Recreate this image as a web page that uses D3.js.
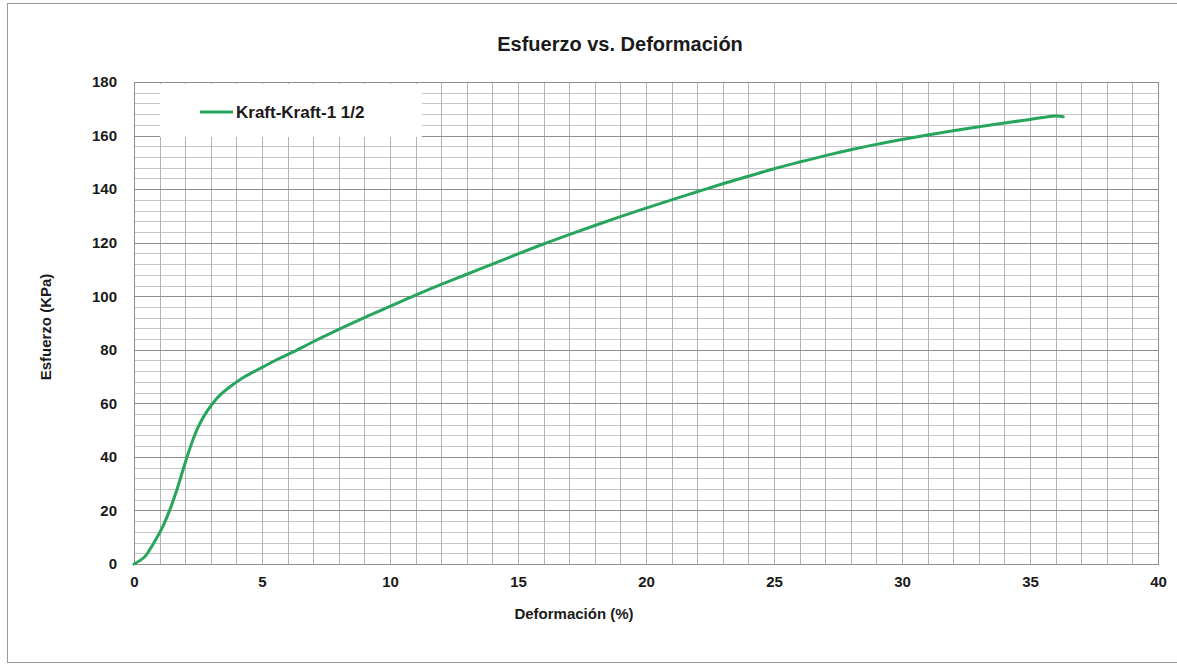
<!DOCTYPE html>
<html><head><meta charset="utf-8">
<script src="https://cdn.jsdelivr.net/npm/d3@7"></script>
<style>body{margin:0;background:#fff}svg{display:block}text{font-family:"Liberation Sans",Arial,sans-serif;font-weight:bold;fill:#1a1a1a}</style>
</head><body>
<svg id="c" width="1177" height="669"></svg>
<script>
const title = "Esfuerzo vs. Deformación";
const xTitle = "Deformación (%)";
const yTitle = "Esfuerzo (KPa)";
const seriesName = "Kraft-Kraft-1 1/2";
const xTicks = [0,5,10,15,20,25,30,35,40];
const yTicks = [0,20,40,60,80,100,120,140,160,180];
const deformacion = [0,0.4,0.75,1.1,1.41,1.7,2,2.25,2.5,2.75,3,3.3,3.75,4.3,4.9,5.5,6.2,7,8,9,10,11,12,13,14,15,16,17,18,19,20,21,22,23,24,25,26,27,28,29,30,31,32,33,34,35,36,36.3];
const esfuerzo =    [0,2.5,7.5,13.5,20.5,28.5,37.8,45,51,55.5,59,62.5,66.2,69.8,72.9,75.9,79.1,83,87.6,92,96.2,100.4,104.4,108.2,112,115.8,119.5,123,126.4,129.7,132.9,136,139,142,144.8,147.6,150.1,152.5,154.7,156.7,158.5,160.2,161.8,163.3,164.7,166,167.3,167];

const svg = d3.select("#c");
const L=134,R=1158,T=82,B=564;
const x = d3.scaleLinear().domain([0,40]).range([L,R]);
const y = d3.scaleLinear().domain([0,180]).range([B,T]);

svg.append("rect").attr("x",7.5).attr("y",3.5).attr("width",1180).attr("height",659).attr("fill","#fff").attr("stroke","#9a9a9a");

const g = svg.append("g");
g.selectAll(".hm").data(d3.range(0,181,4)).join("line")
 .attr("x1",L).attr("x2",R).attr("y1",d=>Math.round(y(d))+0.5).attr("y2",d=>Math.round(y(d))+0.5)
 .attr("stroke","#c6c6c6").attr("stroke-width",1);
g.selectAll(".v").data(d3.range(0,41,1)).join("line")
 .attr("y1",T).attr("y2",B).attr("x1",d=>Math.round(x(d))+0.5).attr("x2",d=>Math.round(x(d))+0.5)
 .attr("stroke","#b4b4b4").attr("stroke-width",1);
g.selectAll(".hM").data(yTicks).join("line")
 .attr("x1",L).attr("x2",R).attr("y1",d=>Math.round(y(d))+0.5).attr("y2",d=>Math.round(y(d))+0.5)
 .attr("stroke","#8e8e8e").attr("stroke-width",1);
svg.append("rect").attr("x",L+0.5).attr("y",T+0.5).attr("width",R-L).attr("height",B-T).attr("fill","none").attr("stroke","#8e8e8e");

svg.append("rect").attr("x",160).attr("y",84).attr("width",262).attr("height",53).attr("fill","#fff");
svg.append("line").attr("x1",200).attr("x2",233).attr("y1",112).attr("y2",112).attr("stroke","#27a55c").attr("stroke-width",3);
svg.append("text").attr("x",236).attr("y",118).attr("font-size",17).text(seriesName);

const xa = d3.axisBottom(x).tickValues(xTicks).tickSize(0).tickPadding(12);
svg.append("g").attr("transform",`translate(0,${B})`).call(xa).call(s=>{s.select(".domain").remove();s.selectAll("text").attr("font-size",15).attr("fill","#1a1a1a").attr("font-family","Liberation Sans, Arial, sans-serif")});
const ya = d3.axisLeft(y).tickValues(yTicks).tickSize(0).tickPadding(17);
svg.append("g").attr("transform",`translate(${L},0)`).call(ya).call(s=>{s.select(".domain").remove();s.selectAll("text").attr("font-size",15).attr("fill","#1a1a1a").attr("font-family","Liberation Sans, Arial, sans-serif")});

svg.append("text").attr("x",620).attr("y",51).attr("text-anchor","middle").attr("font-size",20).text(title);
svg.append("text").attr("x",574).attr("y",619).attr("text-anchor","middle").attr("font-size",15).text(xTitle);
svg.append("text").attr("transform",`translate(51,${(T+B)/2+4}) rotate(-90)`).attr("text-anchor","middle").attr("font-size",15).text(yTitle);

const pts = deformacion.map((d,i)=>[d,esfuerzo[i]]);
svg.append("path").datum(pts).attr("fill","none").attr("stroke","#27a55c").attr("stroke-width",3)
 .attr("stroke-linejoin","round").attr("stroke-linecap","round")
 .attr("d",d3.line().x(d=>x(d[0])).y(d=>y(d[1])).curve(d3.curveCatmullRom.alpha(0.5)));
</script>
</body></html>
